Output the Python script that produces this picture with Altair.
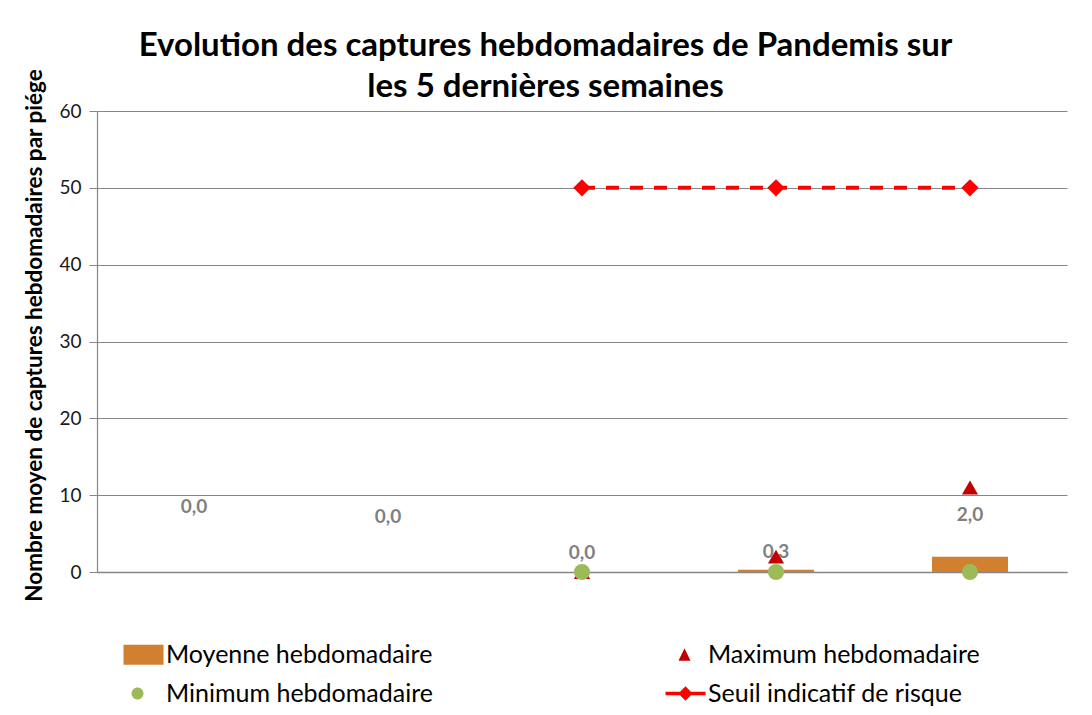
import altair as alt
import pandas as pd

categories = ["S1", "S2", "S3", "S4", "S5"]
moyenne = [0.0, 0.0, 0.0, 0.3, 2.0]
maximum = [None, None, 0, 2, 11]
minimum = [None, None, 0, 0, 0]
seuil = [None, None, 50, 50, 50]
label_y = [8.5, 7.2, 2.5, 2.6, 7.4]
y_ticks = [0, 10, 20, 30, 40, 50, 60]

series = ["Moyenne hebdomadaire", "Minimum hebdomadaire",
          "Maximum hebdomadaire", "Seuil indicatif de risque"]
colors = ["#D27F2F", "#9BBB59", "#C00000", "#FF0000"]
legend_shapes = [
    "M-2,-1H2V1H-2Z",
    "M-1.2,0A0.6,0.6 0 1,0 0,0A0.6,0.6 0 1,0 -1.2,0Z",
    "M-0.1,-0.66L0.5,0.6H-0.7Z",
    "M-2,-0.18H2V0.18H-2ZM0,-0.72L0.72,0L0,0.72L-0.72,0Z",
]

FONT = "Lato"
Y_TITLE = "Nombre moyen de captures hebdomadaires par piége"

df = pd.DataFrame({
    "cat": categories,
    "moyenne": moyenne,
    "maximum": maximum,
    "minimum": minimum,
    "seuil": seuil,
    "label_y": label_y,
    "label": [f"{v:.1f}".replace(".", ",") for v in moyenne],
})
leg_df = pd.DataFrame({"serie": series, "cat": categories[:4], "v": [0, 0, 0, 0]})

xenc = alt.X("cat:N", sort=categories,
             scale=alt.Scale(domain=categories, paddingInner=0, paddingOuter=0),
             axis=alt.Axis(labels=False, ticks=False, title=None,
                           domainColor="#868686", domainWidth=1.5))
yscale = alt.Scale(domain=[0, 60], nice=False)
yaxis = alt.Axis(values=y_ticks, title=Y_TITLE,
                 titleFontSize=22.5, titleFontWeight="bold", titleColor="#000000",
                 titlePadding=12, titleY=224, labelFontSize=19, labelColor="#1a1a1a",
                 labelPadding=8, tickSize=8, tickColor="#868686",
                 gridColor="#868686", gridWidth=1.2, domainColor="#868686",
                 domainWidth=1.2)


def yenc(field):
    return alt.Y(field, type="quantitative", scale=yscale, axis=yaxis, title=Y_TITLE)


base = alt.Chart(df)

bars = base.mark_bar(size=76, color="#D27F2F").encode(x=xenc, y=yenc("moyenne"))

labels = base.mark_text(fontSize=19, fontWeight="bold", color="#808080",
                        baseline="middle", align="center").encode(
    x=xenc, y=yenc("label_y"), text="label:N")

maxi = base.transform_filter("isValid(datum.maximum)").mark_point(
    shape="triangle-up", filled=True, size=260, color="#C00000", opacity=1).encode(
    x=xenc, y=yenc("maximum"))

mini = base.transform_filter("isValid(datum.minimum)").mark_point(
    shape="circle", filled=True, size=260, color="#9BBB59", opacity=1).encode(
    x=xenc, y=yenc("minimum"))

seuil_line = base.transform_filter("isValid(datum.seuil)").mark_line(
    color="#FF0000", strokeWidth=4, strokeDash=[13, 11]).encode(
    x=xenc, y=yenc("seuil"))

seuil_pts = base.transform_filter("isValid(datum.seuil)").mark_point(
    shape="diamond", filled=True, size=300, color="#FF0000", opacity=1).encode(
    x=xenc, y=yenc("seuil"))

legend_layer = alt.Chart(leg_df).mark_point(filled=True, opacity=0).encode(
    x=xenc,
    y=yenc("v"),
    color=alt.Color("serie:N", scale=alt.Scale(domain=series, range=colors),
                    legend=alt.Legend(title=None, orient="none", legendX=34, legendY=531,
                                      columns=2, columnPadding=232, rowPadding=13,
                                      symbolSize=400, symbolOpacity=1, symbolStrokeWidth=0,
                                      labelFontSize=25, labelColor="#000000", labelFont=FONT,
                                      labelOffset=10, padding=0, labelLimit=400)),
    shape=alt.Shape("serie:N", scale=alt.Scale(domain=series, range=legend_shapes),
                    legend=None),
)

chart = alt.layer(bars, labels, seuil_line, seuil_pts, maxi, mini, legend_layer).properties(
    width=970, height=461,
    title=alt.TitleParams(["Evolution des captures hebdomadaires de Pandemis sur",
                           "les 5 dernières semaines"],
                          anchor="middle", frame="bounds", fontSize=33, fontWeight="bold",
                          font=FONT, color="#000000", lineHeight=41, offset=-1, dy=34),
    autosize=alt.AutoSizeParams(type="none"),
    padding={"left": 89, "top": 103, "right": 17, "bottom": 135},
).configure(font=FONT).configure_view(stroke=None)

chart.save("out.html", embed_options={"renderer": "svg", "actions": False})
